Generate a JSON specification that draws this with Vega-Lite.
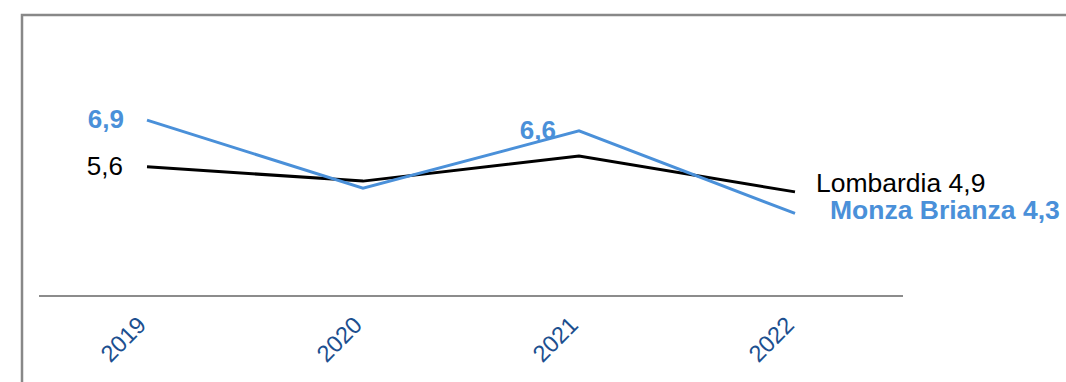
{
  "$schema": "https://vega.github.io/schema/vega-lite/v6.json",
  "width": 1060,
  "height": 400,
  "autosize": {"type": "none"},
  "padding": {"left": 22, "top": 15, "right": -16, "bottom": -33},
  "background": "white",
  "config": {
    "view": {"stroke": "#888888", "strokeWidth": 2.5},
    "font": "Liberation Sans",
    "axisX": {
      "labelAngle": -45,
      "labelAlign": "right",
      "labelBaseline": "alphabetic",
      "labelColor": "#1c4f8f",
      "labelFontSize": 23.5,
      "labelFont": "Liberation Sans",
      "domain": false,
      "ticks": false,
      "grid": false,
      "offset": -119,
      "labelPadding": 30,
      "labelFlush": false,
      "labelOverlap": false
    }
  },
  "data": {
    "values": [
      {"year": 2019, "series": "Lombardia", "value": 5.6, "label": "5,6"},
      {"year": 2020, "series": "Lombardia", "value": 5.2, "label": null},
      {"year": 2021, "series": "Lombardia", "value": 5.9, "label": null},
      {"year": 2022, "series": "Lombardia", "value": 4.9, "label": "Lombardia 4,9"},
      {"year": 2019, "series": "Monza Brianza", "value": 6.9, "label": "6,9"},
      {"year": 2020, "series": "Monza Brianza", "value": 5.0, "label": null},
      {"year": 2021, "series": "Monza Brianza", "value": 6.6, "label": "6,6"},
      {"year": 2022, "series": "Monza Brianza", "value": 4.3, "label": "Monza Brianza 4,3"}
    ]
  },
  "encoding": {
    "x": {
      "field": "year",
      "type": "quantitative",
      "scale": {"domain": [2018.4213, 2023.3287], "nice": false, "zero": false},
      "axis": {"values": [2019, 2020, 2021, 2022], "format": "d", "title": null, "offset": -119}
    },
    "y": {
      "field": "value",
      "type": "quantitative",
      "scale": {"domain": [-1.3148, 9.8273], "nice": false, "zero": false},
      "axis": null
    }
  },
  "layer": [
    {
      "mark": {"type": "line", "strokeWidth": 3},
      "encoding": {
        "color": {
          "field": "series",
          "type": "nominal",
          "scale": {"domain": ["Lombardia", "Monza Brianza"], "range": ["#000000", "#4a90d9"]},
          "legend": null
        }
      }
    },
    {
      "transform": [{"filter": "datum.series === 'Lombardia' && datum.year === 2019"}],
      "mark": {"type": "text", "align": "right", "baseline": "middle", "dx": -24, "fontSize": 26, "color": "#000000"},
      "encoding": {"text": {"field": "label"}}
    },
    {
      "transform": [{"filter": "datum.series === 'Monza Brianza' && datum.year !== 2022 && datum.label !== null"}],
      "mark": {"type": "text", "align": "right", "baseline": "middle", "dx": -23, "fontSize": 26, "fontWeight": "bold", "color": "#4a90d9"},
      "encoding": {"text": {"field": "label"}}
    },
    {
      "transform": [{"filter": "datum.series === 'Lombardia' && datum.year === 2022"}],
      "mark": {"type": "text", "align": "left", "baseline": "middle", "dx": 21, "dy": -8, "fontSize": 26.5, "color": "#000000"},
      "encoding": {"text": {"field": "label"}}
    },
    {
      "transform": [{"filter": "datum.series === 'Monza Brianza' && datum.year === 2022"}],
      "mark": {"type": "text", "align": "left", "baseline": "middle", "dx": 35, "dy": -2, "fontSize": 26.5, "fontWeight": "bold", "color": "#4a90d9"},
      "encoding": {"text": {"field": "label"}}
    },
    {
      "mark": {"type": "rule", "color": "#8c8c8c", "strokeWidth": 2},
      "encoding": {
        "x": {"datum": 2018.5, "type": "quantitative", "axis": {"values": [2019, 2020, 2021, 2022], "format": "d", "title": null, "offset": -119}},
        "x2": {"datum": 2022.5},
        "y": {"datum": 2, "type": "quantitative", "axis": null}
      }
    }
  ]
}
